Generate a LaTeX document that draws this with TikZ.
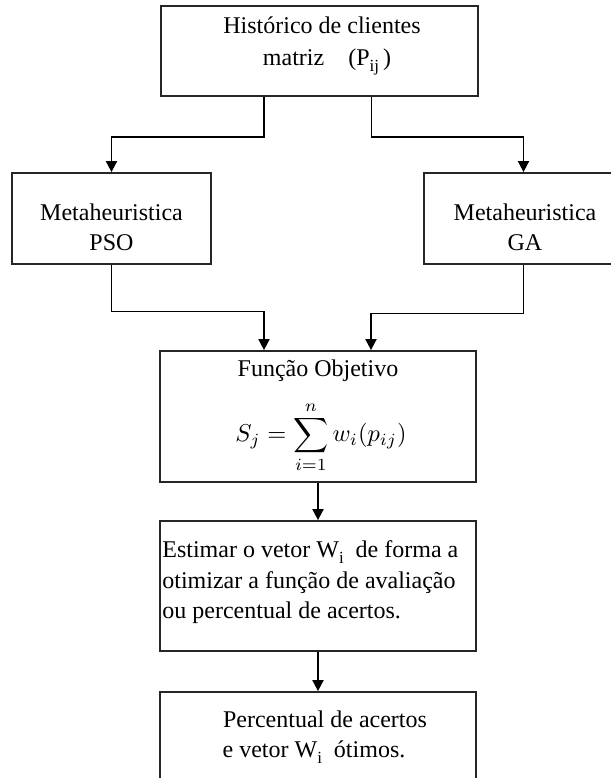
\documentclass[tikz,border=0pt]{standalone}
\usepackage{fontspec}
\setmainfont{Liberation Serif}
\usetikzlibrary{arrows.meta,calc}
\newcommand{\lowsub}[1]{\raisebox{-0.55ex}{\fontsize{8.5pt}{9pt}\selectfont #1}}
\begin{document}
\begin{tikzpicture}[x=0.5pt,y=-0.5pt,
  box/.style={draw=black!85,line width=0.9pt,rectangle,inner sep=0pt},
  txt/.style={font=\fontsize{12pt}{15pt}\selectfont,inner sep=0pt,anchor=base,text=black},
  arr/.style={draw=black,line width=0.9pt,-{Triangle[length=5.5pt,width=5.5pt]}}]
\useasboundingbox (0,0) rectangle (611,778);
\clip (0,0) rectangle (611,778);
% boxes
\node[box,minimum width=158.5pt,minimum height=45pt] (top) at (319.5,51) {};
\node[box,minimum width=99.5pt,minimum height=45.5pt] (pso) at (111.5,218.5) {};
\node[box,minimum width=99.5pt,minimum height=45.5pt] (ga) at (523.5,218.5) {};
\node[box,minimum width=158pt,minimum height=65.5pt] (fo) at (318,416.5) {};
\node[box,minimum width=158pt,minimum height=65pt] (est) at (318,586) {};
\node[box,minimum width=158pt,minimum height=65pt] (fin) at (318,757) {};
% texts
\node[txt] (t1) at (322,33) {Histórico de clientes};
\node[txt] (t2) at (327,65) {matriz\quad(P\lowsub{ij}\,)};
\node[txt] (p1) at (111.5,220) {Metaheuristica};
\node[txt] (p2) at (111.5,250) {PSO};
\node[txt] (g1) at (525,220) {Metaheuristica};
\node[txt] (g2) at (525,250) {GA};
\node[txt] (f1) at (318,376) {Função Objetivo};
\node[inner sep=0pt,scale=1.22] (f2) at (321,437) {$\displaystyle S_j=\sum_{i=1}^{n} w_i(p_{ij})$};
\node[txt,anchor=base west] (e1) at (162,557) {Estimar o vetor W\lowsub{i}\ \ de forma a};
\node[txt,anchor=base west] (e2) at (162,588) {otimizar a função de avaliação};
\node[txt,anchor=base west] (e3) at (162,618) {ou percentual de acertos.};
\node[txt] (n1) at (325,727) {Percentual de acertos};
\node[txt] (n2) at (314,757) {e vetor\ W\lowsub{i}\ \ ótimos.};
% connectors
\draw[arr] ($(top.south)+(-55.5,0)$) -- ++(0,40) -| (pso.north);
\draw[arr] ($(top.south)+(52,0)$) -- ++(0,40) -| (ga.north);
\draw[arr] (pso.south) -- ++(0,46.5) -| ($(fo.north)+(-54,0)$);
\draw[arr] (ga.south) -- ++(0,48.5) -| ($(fo.north)+(53,0)$);
\draw[arr] (fo.south) -- (est.north);
\draw[arr] (est.south) -- (fin.north);
\end{tikzpicture}
\end{document}
